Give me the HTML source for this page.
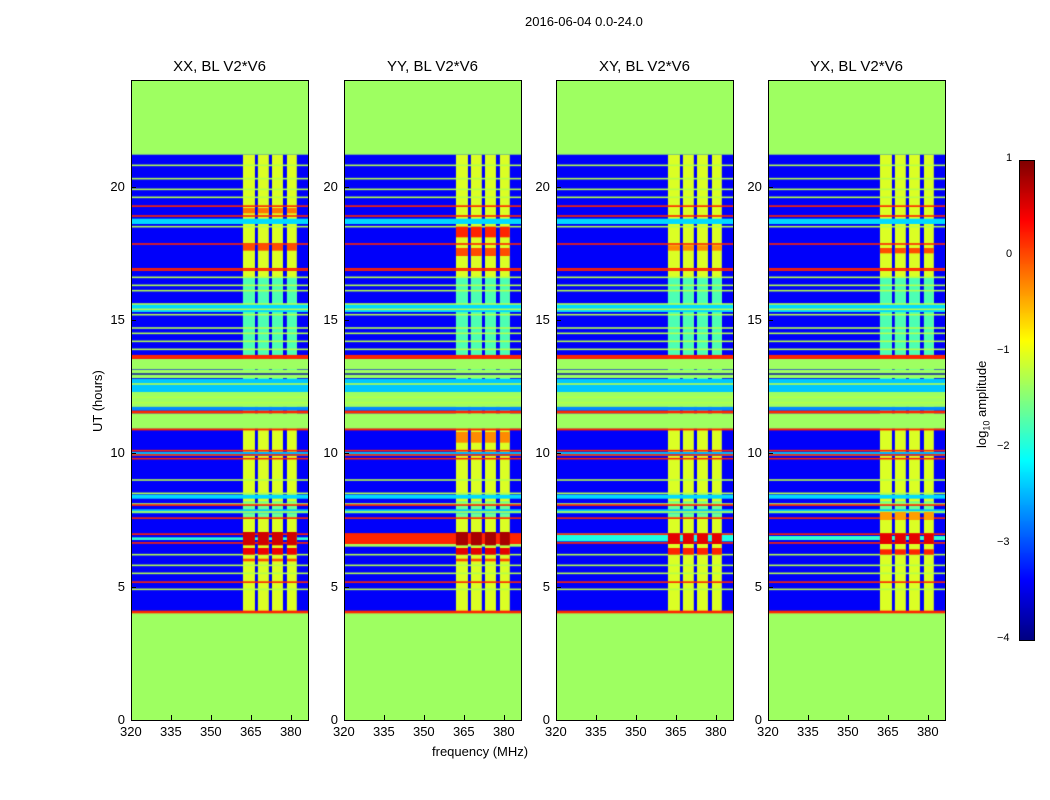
<!DOCTYPE html>
<html><head><meta charset="utf-8">
<style>
body{margin:0;background:#fff;font-family:"Liberation Sans",sans-serif;}
#root{position:relative;width:1050px;height:800px;overflow:hidden;background:#fff;}
.t{position:absolute;font-size:13px;color:#000;white-space:nowrap;}
.title{position:absolute;font-size:15px;white-space:nowrap;transform:translateX(-50%);}
canvas{position:absolute;}
.frame{position:absolute;border:1px solid #000;box-sizing:border-box;pointer-events:none;}
</style></head>
<body>
<div id="root">
<div class="t" style="left:525px;top:14px;">2016-06-04 0.0-24.0</div>
<div class="t" style="left:432px;top:744px;">frequency (MHz)</div>
<div class="t" style="left:90px;top:432px;transform:rotate(-90deg);transform-origin:0 0;">UT (hours)</div>
<div class="t" style="left:974px;top:448px;transform:rotate(-90deg);transform-origin:0 0;">log<sub style="font-size:9px">10</sub> amplitude</div>
</div>
<script>
// ---- data ----
const panelTitles = ["XX, BL V2*V6","YY, BL V2*V6","XY, BL V2*V6","YX, BL V2*V6"];
const xTicks = [320,335,350,365,380];
const yTicks = [0,5,10,15,20];
const cbTicks = [1,0,-1,-2,-3,-4];
const freqMin = 320, freqMax = 386.4, hourMin = 0, hourMax = 24, vMin = -4, vMax = 1;
const backgroundValue = -3.4;
const dataStart = 4.05, dataEnd = 21.2;
const bandCols = [[362,366.5],[367.6,371.7],[372.9,377],[378.5,382.2]];
const bandValue = -1.05;
const bandCyanRanges = [[11.0,16.6,-1.75],[7.6,8.2,-1.6]];
const commonRows = [
 [0,4.05,-1.35],[21.2,24,-1.35],[13.16,13.54,-1.35],[12.82,13.14,-1.35],[11.74,12.3,-1.35],[10.92,11.5,-1.35],
 [12.3,12.79,-2.4],[11.6,11.74,-2.7],
 [13.54,13.69,0.2],[11.5,11.6,0.2],[4.0,4.1,0.2],[10.86,10.93,0.2],[12.95,13.0,-3.8],
 [18.6,18.8,-2.3],[15.3,15.6,-2.3],[7.75,7.9,-2.4],[8.3,8.45,-2.3],[9.9,10.05,-2.5]
];
const orangeLines = [19.27,18.9,17.85,16.87,16.92,10.1,9.94,9.8,8.06,7.57,6.97,6.64,5.17];
const greenLines = [20.8,20.3,19.9,19.6,18.5,16.6,16.3,16.1,15.6,15.4,15.2,14.7,14.5,14.2,13.9,12.6,12.1,11.9,9.0,8.5,8.1,7.8,6.2,5.8,5.5,4.9];
const panelRows = [
 [[6.75,6.85,-1.9]],
 [[6.6,7.0,0.2],[6.5,6.6,-1.3]],
 [[6.7,7.0,-2.0]],
 [[6.75,6.9,-1.9]]
];
const panelBlocks = [
 [[6.55,7.05,0.6],[6.2,6.45,0.45],[5.95,6.05,0.0],[17.6,17.85,0.0],[19.0,19.2,-0.2]],
 [[6.55,7.05,0.8],[6.2,6.45,0.5],[5.95,6.05,0.0],[18.1,18.5,0.2],[17.4,17.7,0.0],[10.4,10.8,-0.3]],
 [[6.6,7.0,0.5],[6.2,6.45,0.2],[17.6,17.8,-0.3]],
 [[6.6,7.0,0.5],[6.2,6.4,0.2],[17.5,17.7,0.0],[7.5,7.8,-0.4]]
];
// ---- layout ----
const panelLeft = [131,344,556,768], panelW = 177, pTop = 80, pH = 640;
const cb = {x:1019,y:160,w:15,h:480};
function jet(v){
  let t=(v-vMin)/(vMax-vMin); t=Math.max(0,Math.min(1,t));
  const f=(a)=>Math.max(0,Math.min(1,1.5-Math.abs(4*t-a)));
  return `rgb(${Math.round(255*f(3))},${Math.round(255*f(2))},${Math.round(255*f(1))})`;
}
const root=document.getElementById('root');
function txt(s,l,t,name,cls){const d=document.createElement('div');d.className=cls||'t';d.textContent=s;d.style.left=l+'px';d.style.top=t+'px';


root.appendChild(d);return d;}
panelLeft.forEach((L,p)=>{
  const xs=f=>(f-freqMin)/(freqMax-freqMin)*panelW;
  const ys=h=>pH-(h-hourMin)/(hourMax-hourMin)*pH;
  const c=document.createElement('canvas');c.width=panelW;c.height=pH;c.style.left=L+'px';c.style.top=pTop+'px';
  
  
  root.appendChild(c);const g=c.getContext('2d');
  const rect=(f0,f1,h0,h1,v)=>{g.fillStyle=jet(v);const y0=ys(h1),y1=ys(h0);g.fillRect(xs(f0),y0,xs(f1)-xs(f0),Math.max(1.2,y1-y0));};
  rect(freqMin,freqMax,hourMin,hourMax,backgroundValue);
  bandCols.forEach(b=>{rect(b[0],b[1],dataStart,dataEnd,bandValue);bandCyanRanges.forEach(r=>rect(b[0],b[1],r[0],r[1],r[2]));});
  commonRows.forEach(r=>rect(freqMin,freqMax,r[0],r[1],r[2]));
  panelRows[p].forEach(r=>rect(freqMin,freqMax,r[0],r[1],r[2]));
  greenLines.forEach(h=>rect(freqMin,freqMax,h-0.03,h+0.03,-1.25));
  orangeLines.forEach(h=>rect(freqMin,freqMax,h-0.03,h+0.03,0.2));
  bandCols.forEach(b=>panelBlocks[p].forEach(k=>rect(b[0],b[1],k[0],k[1],k[2])));
  const fr=document.createElement('div');fr.className='frame';fr.style.cssText=`left:${L}px;top:${pTop}px;width:${panelW+1}px;height:${pH+1}px`;
  
  
  root.appendChild(fr);
  txt(panelTitles[p],L+panelW/2,58,'panel-title-'+(p+1),'title');
  xTicks.forEach(v=>{txt(String(v),L+xs(v)-11,724,'x-tick-label');
    const tk=document.createElement('div');tk.style.cssText=`position:absolute;left:${L+xs(v)}px;top:${pTop+pH-5}px;width:1px;height:5px;background:#000`;
    
    
    root.appendChild(tk);});
  yTicks.forEach(v=>{const w=String(v).length*7.3;txt(String(v),L-6-w,pTop+ys(v)-8,'y-tick-label');
    const tk=document.createElement('div');tk.style.cssText=`position:absolute;left:${L}px;top:${pTop+ys(v)}px;width:5px;height:1px;background:#000`;
    
    
    root.appendChild(tk);});
});
// colorbar
const cc=document.createElement('canvas');cc.width=cb.w;cc.height=cb.h;cc.style.left=cb.x+'px';cc.style.top=cb.y+'px';


root.appendChild(cc);const cg=cc.getContext('2d');
for(let i=0;i<cb.h;i++){cg.fillStyle=jet(vMax-(i/cb.h)*(vMax-vMin));cg.fillRect(0,i,cb.w,1);}
const cf=document.createElement('div');cf.className='frame';cf.style.cssText=`left:${cb.x}px;top:${cb.y}px;width:${cb.w+1}px;height:${cb.h+1}px`;


root.appendChild(cf);
cbTicks.forEach(v=>{const y=cb.y+(vMax-v)/(vMax-vMin)*cb.h;const s=v<0?'\u2212'+(-v):String(v);txt(s,cb.x-13-(v<0?9:0),y-8,'colorbar-tick-label').style.fontSize='11px';});
</script>
</body></html>
